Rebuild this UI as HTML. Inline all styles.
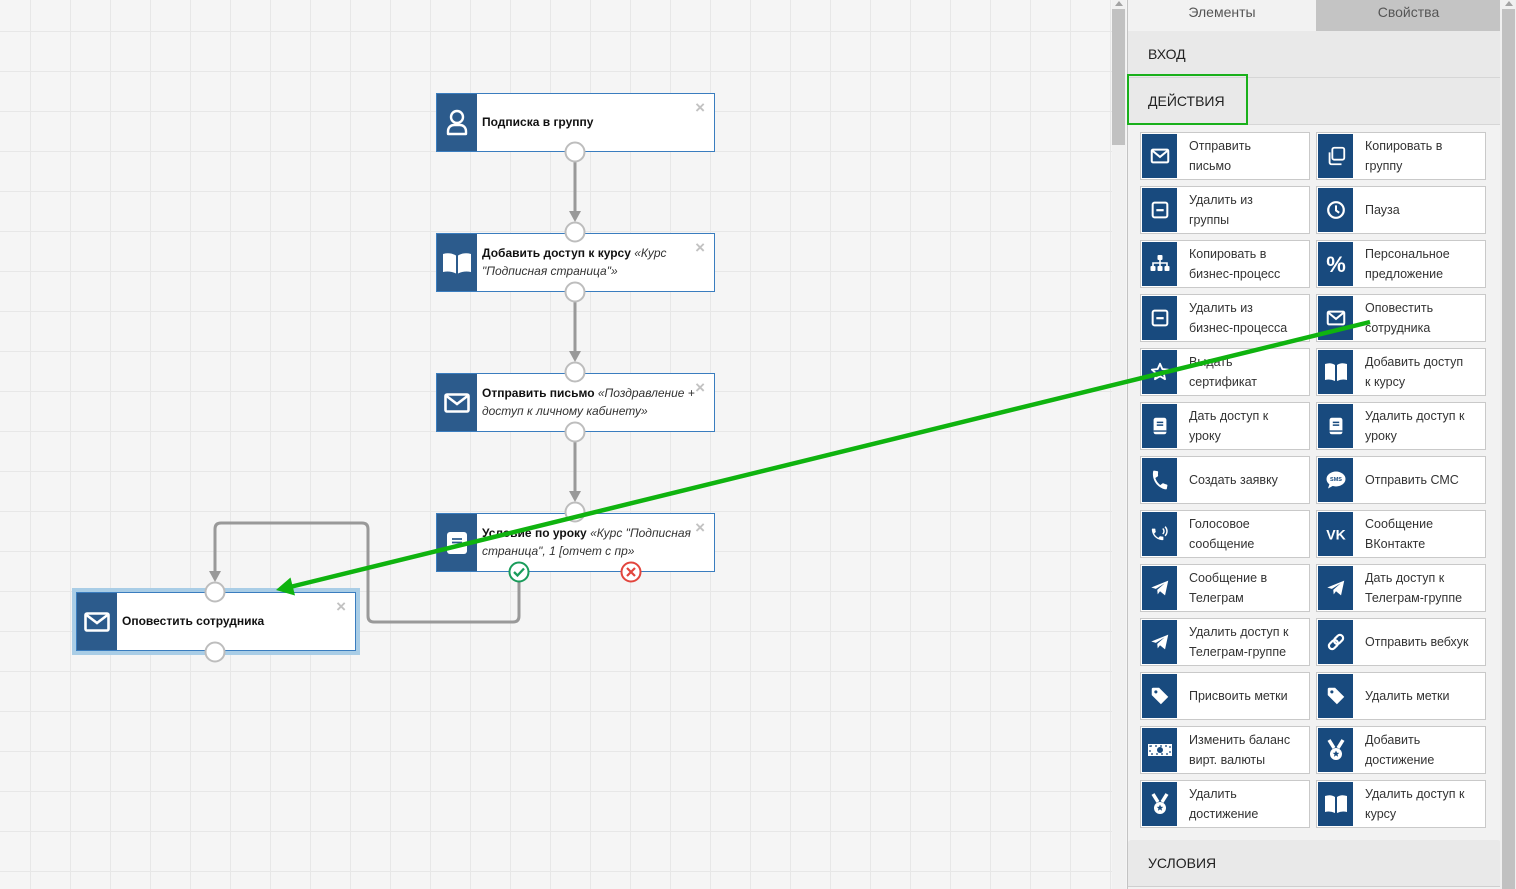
<!DOCTYPE html>
<html><head><meta charset="utf-8">
<style>
*{margin:0;padding:0;box-sizing:content-box}
html,body{width:1516px;height:889px;overflow:hidden;background:#f5f5f5;font-family:"Liberation Sans",Arial,sans-serif}
#canvas{position:absolute;left:0;top:0;width:1112px;height:889px;background-color:#f5f5f5;
background-image:linear-gradient(to right,#e7e7e7 1px,transparent 1px),linear-gradient(to bottom,#e7e7e7 1px,transparent 1px);
background-size:40px 40px;background-position:30px 31px;overflow:hidden}
.node{position:absolute;width:277px;height:57px;border:1px solid #3a7dbf;background:#fff}
.node .ni{position:absolute;left:0;top:0;width:40px;height:57px;background:#2c5b8c;display:flex;align-items:center;justify-content:center}
.node .nt{position:absolute;left:45px;top:-1px;width:220px;height:57px;display:flex;align-items:center;font-size:12px;line-height:18px;color:#111}
.node .nt b{font-weight:bold}
.node .nt i{color:#333}
.node .x{position:absolute;right:9px;top:5px;font-size:17px;font-weight:bold;color:#c2c2c2;line-height:17px}
.sel{box-shadow:0 0 0 4px #a9cde6}
#lsb{position:absolute;left:1112px;top:0;width:14px;height:889px;background:#f1f1f1}
#lsb .th{position:absolute;left:0;top:9px;width:13px;height:136px;background:#c1c1c1}
#panel{position:absolute;left:1127px;top:0;width:373px;height:889px;background:#f2f2f2;border-left:1px solid #c3c3c3}
.tab{position:absolute;top:0;height:31px;font-size:14px;color:#555;text-align:center;line-height:24px}
.hdr{position:absolute;left:0;width:373px;height:46px;background:#e9e9e9;border-bottom:1px solid #d6d6d6;font-size:14px;color:#222;line-height:46px;text-indent:20px}
.card{position:absolute;width:168px;height:46px;border:1px solid #c9c9c9;background:#fff}
.card .ic{position:absolute;left:1px;top:1px;width:35px;height:44px;background:#184a7e;display:flex;align-items:center;justify-content:center}
.card .tx{position:absolute;left:48px;top:0;height:46px;width:118px;display:flex;align-items:center;font-size:12.5px;line-height:20px;color:#333}
#rsb{position:absolute;left:1500px;top:0;width:16px;height:889px;background:#f0f0f0}
#rsb .th{position:absolute;left:2px;top:9px;width:13px;height:880px;background:#c1c1c1}
svg.ov{position:absolute;left:0;top:0}
</style></head><body>
<div id="canvas">
  <div class="node" style="left:436px;top:93px">
    <div class="ni"><svg width="24" height="28" viewBox="0 0 24 28"><circle cx="12" cy="8" r="6" fill="none" stroke="#fff" stroke-width="2.4"/><path d="M3 25 v-3 a6 6 0 0 1 6-6 h6 a6 6 0 0 1 6 6 v3z" fill="none" stroke="#fff" stroke-width="2.4" stroke-linejoin="round"/></svg></div>
    <div class="nt"><b>Подписка в группу</b></div>
    <div class="x">×</div>
  </div>
  <div class="node" style="left:436px;top:233px">
    <div class="ni"><svg width="30" height="24" viewBox="0 0 30 24"><path d="M1 3 q7-2 13 1.5 v18 q-6-3-13-1.5z M29 3 q-7-2-13 1.5 v18 q6-3 13-1.5z" fill="#fff"/></svg></div>
    <div class="nt"><span><b>Добавить доступ к курсу</b> <i>«Курс<br>"Подписная страница"»</i></span></div>
    <div class="x">×</div>
  </div>
  <div class="node" style="left:436px;top:373px">
    <div class="ni"><svg width="26" height="20" viewBox="0 0 26 20"><rect x="1.5" y="1.5" width="23" height="17" rx="1.5" fill="none" stroke="#fff" stroke-width="2.6"/><path d="M2.5 3 L13 11 L23.5 3" fill="none" stroke="#fff" stroke-width="2.6"/></svg></div>
    <div class="nt"><span><b>Отправить письмо</b> <i>«Поздравление +<br>доступ к личному кабинету»</i></span></div>
    <div class="x">×</div>
  </div>
  <div class="node" style="left:436px;top:513px">
    <div class="ni"><svg width="22" height="24" viewBox="0 0 22 24"><rect x="1" y="1" width="20" height="22" rx="3" fill="#fff"/><path d="M6 8h10M6 11.5h10M6 15h10" stroke="#2c5b8c" stroke-width="1.8"/></svg></div>
    <div class="nt"><span><b>Условие по уроку</b> <i>«Курс "Подписная<br>страница", 1 [отчет с пр»</i></span></div>
    <div class="x">×</div>
  </div>
  <div class="node sel" style="left:76px;top:592px;width:278px">
    <div class="ni"><svg width="26" height="20" viewBox="0 0 26 20"><rect x="1.5" y="1.5" width="23" height="17" rx="1.5" fill="none" stroke="#fff" stroke-width="2.6"/><path d="M2.5 3 L13 11 L23.5 3" fill="none" stroke="#fff" stroke-width="2.6"/></svg></div>
    <div class="nt"><b>Оповестить сотрудника</b></div>
    <div class="x">×</div>
  </div>
</div>

<div id="lsb"><div class="th"></div><svg class="ov" width="14" height="8"><polygon points="3,6 11,6 7,1" fill="#a3a3a3"/></svg></div>

<div id="panel">
  <div class="tab" style="left:0;width:188px;background:#f2f2f2">Элементы</div>
  <div class="tab" style="left:188px;width:185px;background:#c4c4c4">Свойства</div>
  <div class="hdr" style="top:31px">ВХОД</div>
  <div class="hdr" style="top:78px">ДЕЙСТВИЯ</div>
  <div class="hdr" style="top:840px;border-radius:3px 3px 0 0;border-bottom-color:#cfcfcf">УСЛОВИЯ</div>
</div>

<div class="card" style="left:1140px;top:132px"><div class="ic"><svg width="22" height="22" viewBox="0 0 24 24"><rect x="3" y="5" width="18" height="14" rx="1.5" fill="none" stroke="#fff" stroke-width="2.2"/><path d="M3.5 6 L12 13 L20.5 6" fill="none" stroke="#fff" stroke-width="2.2"/></svg></div><div class="tx">Отправить<br>письмо</div></div>
<div class="card" style="left:1316px;top:132px"><div class="ic"><svg width="22" height="22" viewBox="0 0 24 24"><rect x="8" y="3" width="13" height="13" rx="2" fill="none" stroke="#fff" stroke-width="2"/><path d="M5 8 v11 a2 2 0 0 0 2 2 h11" fill="none" stroke="#fff" stroke-width="2"/></svg></div><div class="tx">Копировать в<br>группу</div></div>

<div class="card" style="left:1140px;top:186px"><div class="ic"><svg width="22" height="22" viewBox="0 0 24 24"><rect x="4" y="4" width="16" height="16" rx="2" fill="none" stroke="#fff" stroke-width="2.2"/><rect x="8" y="11" width="8" height="2.4" fill="#fff"/></svg></div><div class="tx">Удалить из<br>группы</div></div>
<div class="card" style="left:1316px;top:186px"><div class="ic"><svg width="22" height="22" viewBox="0 0 24 24"><circle cx="12" cy="12" r="8.5" fill="none" stroke="#fff" stroke-width="2.4"/><path d="M12 7v5.5l3.5 2.5" fill="none" stroke="#fff" stroke-width="2.2"/></svg></div><div class="tx">Пауза</div></div>

<div class="card" style="left:1140px;top:240px"><div class="ic"><svg width="24" height="24" viewBox="0 0 24 24"><rect x="9.5" y="3" width="5" height="5" rx="1" fill="#fff"/><path d="M12 8v3M5 14v-3h14v3M12 11v3" stroke="#fff" stroke-width="1.6" fill="none"/><rect x="2.5" y="14" width="5" height="5" rx="1" fill="#fff"/><rect x="9.5" y="14" width="5" height="5" rx="1" fill="#fff"/><rect x="16.5" y="14" width="5" height="5" rx="1" fill="#fff"/></svg></div><div class="tx">Копировать в<br>бизнес-процесс</div></div>
<div class="card" style="left:1316px;top:240px"><div class="ic"><svg width="24" height="24" viewBox="0 0 24 24"><text x="12" y="20" text-anchor="middle" font-family="Liberation Sans" font-weight="bold" font-size="22" fill="#fff">%</text></svg></div><div class="tx">Персональное<br>предложение</div></div>

<div class="card" style="left:1140px;top:294px"><div class="ic"><svg width="22" height="22" viewBox="0 0 24 24"><rect x="4" y="4" width="16" height="16" rx="2" fill="none" stroke="#fff" stroke-width="2.2"/><rect x="8" y="11" width="8" height="2.4" fill="#fff"/></svg></div><div class="tx">Удалить из<br>бизнес-процесса</div></div>
<div class="card" style="left:1316px;top:294px"><div class="ic"><svg width="22" height="22" viewBox="0 0 24 24"><rect x="3" y="5" width="18" height="14" rx="1.5" fill="none" stroke="#fff" stroke-width="2.2"/><path d="M3.5 6 L12 13 L20.5 6" fill="none" stroke="#fff" stroke-width="2.2"/></svg></div><div class="tx">Оповестить<br>сотрудника</div></div>

<div class="card" style="left:1140px;top:348px"><div class="ic"><svg width="22" height="22" viewBox="0 0 24 24"><path d="M12 3l2.6 5.8 6.3.6-4.8 4.2 1.4 6.2L12 16.6 6.5 19.8l1.4-6.2L3.1 9.4l6.3-.6z" fill="none" stroke="#fff" stroke-width="2" stroke-linejoin="round"/></svg></div><div class="tx">Выдать<br>сертификат</div></div>
<div class="card" style="left:1316px;top:348px"><div class="ic"><svg width="24" height="22" viewBox="0 0 24 22"><path d="M1 3 q6-2 10 1 v16 q-5-2.5-10-1z M23 3 q-6-2-10 1 v16 q5-2.5 10-1z" fill="#fff"/></svg></div><div class="tx">Добавить доступ<br>к курсу</div></div>

<div class="card" style="left:1140px;top:402px"><div class="ic"><svg width="22" height="22" viewBox="0 0 24 24"><rect x="5" y="3" width="14" height="18" rx="2.5" fill="#fff"/><path d="M8.5 8h7M8.5 11h7" stroke="#184a7e" stroke-width="1.6"/><path d="M5 17.5h14" stroke="#184a7e" stroke-width="1.5"/></svg></div><div class="tx">Дать доступ к<br>уроку</div></div>
<div class="card" style="left:1316px;top:402px"><div class="ic"><svg width="22" height="22" viewBox="0 0 24 24"><rect x="5" y="3" width="14" height="18" rx="2.5" fill="#fff"/><path d="M8.5 8h7M8.5 11h7" stroke="#184a7e" stroke-width="1.6"/><path d="M5 17.5h14" stroke="#184a7e" stroke-width="1.5"/></svg></div><div class="tx">Удалить доступ к<br>уроку</div></div>

<div class="card" style="left:1140px;top:456px"><div class="ic"><svg width="22" height="22" viewBox="0 0 24 24"><path transform="rotate(10 12 12)" d="M6.6 10.8c1.4 2.8 3.8 5.1 6.6 6.6l2.2-2.2c.3-.3.7-.4 1-.2 1.1.4 2.3.6 3.6.6.6 0 1 .4 1 1V20c0 .6-.4 1-1 1C10.6 21 3 13.4 3 4c0-.6.4-1 1-1h3.5c.6 0 1 .4 1 1 0 1.3.2 2.5.6 3.6.1.3 0 .7-.2 1z" fill="#fff"/></svg></div><div class="tx">Создать заявку</div></div>
<div class="card" style="left:1316px;top:456px"><div class="ic"><svg width="24" height="24" viewBox="0 0 24 24"><ellipse cx="12" cy="11" rx="9.5" ry="7.5" fill="#fff"/><path d="M5.5 16 l-1.5 4.5 l5.5-3z" fill="#fff"/><text x="12" y="13" text-anchor="middle" font-size="5.5" font-weight="bold" font-family="Liberation Sans" fill="#184a7e">SMS</text></svg></div><div class="tx">Отправить СМС</div></div>

<div class="card" style="left:1140px;top:510px"><div class="ic"><svg width="22" height="22" viewBox="0 0 24 24"><path transform="translate(1 4) scale(0.7)" d="M6.6 10.8c1.4 2.8 3.8 5.1 6.6 6.6l2.2-2.2c.3-.3.7-.4 1-.2 1.1.4 2.3.6 3.6.6.6 0 1 .4 1 1V20c0 .6-.4 1-1 1C10.6 21 3 13.4 3 4c0-.6.4-1 1-1h3.5c.6 0 1 .4 1 1 0 1.3.2 2.5.6 3.6.1.3 0 .7-.2 1z" fill="#fff"/><path d="M15 6 a4 4 0 0 1 0 6 M17.5 4 a7 7 0 0 1 0 10" fill="none" stroke="#fff" stroke-width="1.6"/></svg></div><div class="tx">Голосовое<br>сообщение</div></div>
<div class="card" style="left:1316px;top:510px"><div class="ic"><svg width="24" height="24" viewBox="0 0 24 24"><text x="12" y="17.5" text-anchor="middle" font-size="14" font-weight="bold" font-family="Liberation Sans" fill="#fff">VK</text></svg></div><div class="tx">Сообщение<br>ВКонтакте</div></div>

<div class="card" style="left:1140px;top:564px"><div class="ic"><svg width="22" height="22" viewBox="0 0 24 24"><path d="M2.5 11.5 L21 4 L17.5 20 L12 15.5 L9.5 19 L9 14 L17 7 L7.5 13z" fill="#fff"/></svg></div><div class="tx">Сообщение в<br>Телеграм</div></div>
<div class="card" style="left:1316px;top:564px"><div class="ic"><svg width="22" height="22" viewBox="0 0 24 24"><path d="M2.5 11.5 L21 4 L17.5 20 L12 15.5 L9.5 19 L9 14 L17 7 L7.5 13z" fill="#fff"/></svg></div><div class="tx">Дать доступ к<br>Телеграм-группе</div></div>

<div class="card" style="left:1140px;top:618px"><div class="ic"><svg width="22" height="22" viewBox="0 0 24 24"><path d="M2.5 11.5 L21 4 L17.5 20 L12 15.5 L9.5 19 L9 14 L17 7 L7.5 13z" fill="#fff"/></svg></div><div class="tx">Удалить доступ к<br>Телеграм-группе</div></div>
<div class="card" style="left:1316px;top:618px"><div class="ic"><svg width="22" height="22" viewBox="0 0 24 24"><g transform="rotate(-45 12 12)"><rect x="2.5" y="8.5" width="11" height="7" rx="3.5" fill="none" stroke="#fff" stroke-width="2.4"/><rect x="10.5" y="8.5" width="11" height="7" rx="3.5" fill="none" stroke="#fff" stroke-width="2.4"/></g></svg></div><div class="tx">Отправить вебхук</div></div>

<div class="card" style="left:1140px;top:672px"><div class="ic"><svg width="22" height="22" viewBox="0 0 24 24"><path d="M3 4.5 a1.5 1.5 0 0 1 1.5-1.5 h6.5 l10 10 l-8 8 l-10-10z" fill="#fff"/><circle cx="7.5" cy="7.5" r="1.7" fill="#184a7e"/></svg></div><div class="tx">Присвоить метки</div></div>
<div class="card" style="left:1316px;top:672px"><div class="ic"><svg width="22" height="22" viewBox="0 0 24 24"><path d="M3 4.5 a1.5 1.5 0 0 1 1.5-1.5 h6.5 l10 10 l-8 8 l-10-10z" fill="#fff"/><circle cx="7.5" cy="7.5" r="1.7" fill="#184a7e"/></svg></div><div class="tx">Удалить метки</div></div>

<div class="card" style="left:1140px;top:726px"><div class="ic"><svg width="26" height="22" viewBox="0 0 26 22"><rect x="1" y="5" width="24" height="12" fill="#fff"/><rect x="3" y="7" width="20" height="8" fill="none" stroke="#184a7e" stroke-width="1.2" stroke-dasharray="2 3"/><circle cx="13" cy="11" r="3" fill="#184a7e"/></svg></div><div class="tx">Изменить баланс<br>вирт. валюты</div></div>
<div class="card" style="left:1316px;top:726px"><div class="ic"><svg width="22" height="24" viewBox="0 0 22 24"><path d="M4 2 l5 8 M18 2 l-5 8" stroke="#fff" stroke-width="3.5"/><circle cx="11" cy="16" r="6" fill="#fff"/><path d="M11 12.5l1 2.2 2.3.2-1.8 1.5.6 2.3-2.1-1.3-2.1 1.3.6-2.3-1.8-1.5 2.3-.2z" fill="#184a7e"/></svg></div><div class="tx">Добавить<br>достижение</div></div>

<div class="card" style="left:1140px;top:780px"><div class="ic"><svg width="22" height="24" viewBox="0 0 22 24"><path d="M4 2 l5 8 M18 2 l-5 8" stroke="#fff" stroke-width="3.5"/><circle cx="11" cy="16" r="6" fill="#fff"/><path d="M11 12.5l1 2.2 2.3.2-1.8 1.5.6 2.3-2.1-1.3-2.1 1.3.6-2.3-1.8-1.5 2.3-.2z" fill="#184a7e"/></svg></div><div class="tx">Удалить<br>достижение</div></div>
<div class="card" style="left:1316px;top:780px"><div class="ic"><svg width="24" height="22" viewBox="0 0 24 22"><path d="M1 3 q6-2 10 1 v16 q-5-2.5-10-1z M23 3 q-6-2-10 1 v16 q5-2.5 10-1z" fill="#fff"/></svg></div><div class="tx">Удалить доступ к<br>курсу</div></div>

<div id="rsb"><div class="th"></div><svg class="ov" width="16" height="8"><polygon points="5,6 13,6 9,1" fill="#a3a3a3"/></svg></div>

<svg class="ov" width="1516" height="889" viewBox="0 0 1516 889">
  <g stroke="#999" stroke-width="3" fill="none">
    <line x1="575" y1="162" x2="575" y2="214"/>
    <line x1="575" y1="302" x2="575" y2="354"/>
    <line x1="575" y1="442" x2="575" y2="494"/>
    <path d="M519 582 V616 Q519 622 513 622 H374 Q368 622 368 616 V529 Q368 523 362 523 H221 Q215 523 215 529 V574"/>
  </g>
  <g fill="#999">
    <polygon points="569,211 581,211 575,222"/>
    <polygon points="569,351 581,351 575,362"/>
    <polygon points="569,491 581,491 575,502"/>
    <polygon points="209,571 221,571 215,582"/>
  </g>
  <g fill="#fff" stroke="#bdbdbd" stroke-width="2">
    <circle cx="575" cy="152" r="9.5"/>
    <circle cx="575" cy="232" r="9.5"/>
    <circle cx="575" cy="292" r="9.5"/>
    <circle cx="575" cy="372" r="9.5"/>
    <circle cx="575" cy="432" r="9.5"/>
    <circle cx="575" cy="512" r="9.5"/>
    <circle cx="215" cy="592" r="9.5"/>
    <circle cx="215" cy="652" r="9.5"/>
  </g>
  <circle cx="519" cy="572" r="9.5" fill="#fff" stroke="#1a9c5b" stroke-width="2"/>
  <path d="M514 572 l3.5 3.5 l6.5-7" fill="none" stroke="#1a9c5b" stroke-width="2.3"/>
  <circle cx="631" cy="572" r="9.5" fill="#fff" stroke="#e2453d" stroke-width="2"/>
  <path d="M627 568 l8 8 M635 568 l-8 8" fill="none" stroke="#e2453d" stroke-width="2.2"/>
  <rect x="1128" y="75" width="119" height="49" fill="none" stroke="#19b01b" stroke-width="2"/>
  <line x1="1370" y1="322" x2="290" y2="587" stroke="#0fb30f" stroke-width="4.5"/>
  <polygon points="276,590 295,595.5 290.5,577.5" fill="#0fb30f"/>
</svg>
</body></html>
